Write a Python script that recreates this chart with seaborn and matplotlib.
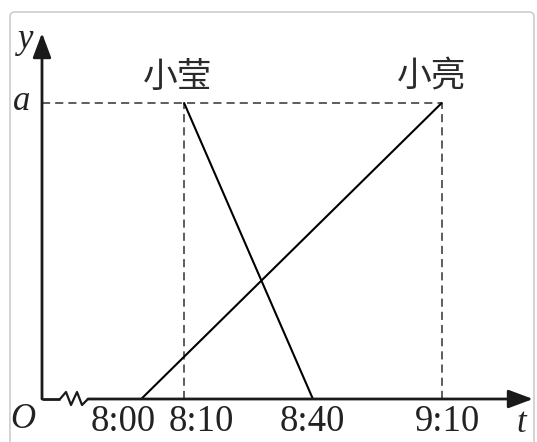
import pandas as pd
import seaborn as sns
import matplotlib.pyplot as plt
from matplotlib.patches import FancyBboxPatch

# data: minutes after 8:00
tick_labels = ["8:00", "8:10", "8:40", "9:10"]
tick_minutes = [0, 10, 40, 70]
names = ["小莹", "小亮"]
t_start = [10, 0]
t_end = [40, 70]
y_start = [1, 0]
y_end = [0, 1]
a_level = 1

rows = []
for i, n in enumerate(names):
    rows.append({"who": n, "t": t_start[i], "y": y_start[i]})
    rows.append({"who": n, "t": t_end[i], "y": y_end[i]})
df = pd.DataFrame(rows)

sns.set_style("white")
plt.rcParams['font.family'] = ['Liberation Serif', 'Noto Sans CJK SC']

# pixel helpers (image is 537x442, axis origin ~ (42, 399))
PX_MIN = 4.293
X0_PX = 141.2
PY_UNIT = 296.0
Y0_PX = 43.0
def px_x(p):
    return (p - X0_PX) / PX_MIN
def px_y(p_from_top):
    return (442 - p_from_top - Y0_PX) / PY_UNIT

fig = plt.figure(figsize=(5.37, 4.42), dpi=100)
ax = fig.add_axes([0, 0, 1, 1])
ax.set_xlim(px_x(0), px_x(537))
ax.set_ylim(px_y(442), px_y(0))
ax.axis('off')

# frame round the picture
fig.patches.append(FancyBboxPatch((10 / 537, -0.05), 524 / 537, 1.05 - 12 / 442,
                                  boxstyle="round,pad=0,rounding_size=0.01",
                                  transform=fig.transFigure, fc='none',
                                  ec='#c4c4c4', lw=1.0))

axis_col = '#1a1a1a'
xo = px_x(42)
# y axis
ax.annotate('', xy=(xo, px_y(33)), xytext=(xo, 0),
            arrowprops=dict(arrowstyle='-|>,head_length=0.75,head_width=0.28',
                            color=axis_col, lw=2, shrinkA=0, shrinkB=0,
                            mutation_scale=20))
# x axis with the break mark
zz_px = [(60, 0), (66, 7), (71, -6), (77, 7), (82, -6), (88, 0)]
ax.plot([xo, px_x(60)], [0, 0], color=axis_col, lw=2, solid_capstyle='butt')
ax.plot([px_x(p) for p, _ in zz_px], [q / PY_UNIT for _, q in zz_px],
        color=axis_col, lw=1.6)
ax.annotate('', xy=(px_x(533), 0), xytext=(px_x(88), 0),
            arrowprops=dict(arrowstyle='-|>,head_length=0.75,head_width=0.28',
                            color=axis_col, lw=2, shrinkA=0, shrinkB=0,
                            mutation_scale=20))

# dashed guides
dash_kw = dict(color='#505050', lw=1.3, dashes=(4.5, 2.8))
ax.plot([xo, tick_minutes[3]], [a_level, a_level], **dash_kw)
for m in [tick_minutes[1], tick_minutes[3]]:
    ax.plot([m, m], [0, a_level], **dash_kw)

# the two lines
sns.lineplot(data=df, x='t', y='y', units='who', estimator=None,
             color='black', lw=1.5, ax=ax, legend=False)

# tick labels
lab_shift = [-18, 17, -1, 6]
for m, lab, s in zip(tick_minutes, tick_labels, lab_shift):
    ax.text(m + s / PX_MIN, px_y(422), lab, ha='center', va='center',
            fontsize=26.5, color='#222222')

# names above the top points
name_x = [t_start[0], t_end[1]]
name_shift = [-7, -10]
for n, m, s in zip(names, name_x, name_shift):
    ax.text(m + s / PX_MIN, px_y(77), n, ha='center', va='center',
            fontsize=25, color='#2a2a2a', family=['Noto Sans CJK SC'])

# axis letters
it = dict(fontsize=25, style='italic', ha='center', va='center', color='#222222')
ax.text(px_x(26), px_y(40), 'y', **it)
ax.text(px_x(22), px_y(101), 'a', **it)
ax.text(px_x(23), px_y(420), 'O', **it)
ax.text(px_x(521), px_y(423), 't', **it)

fig.savefig('out.png', dpi=100)
